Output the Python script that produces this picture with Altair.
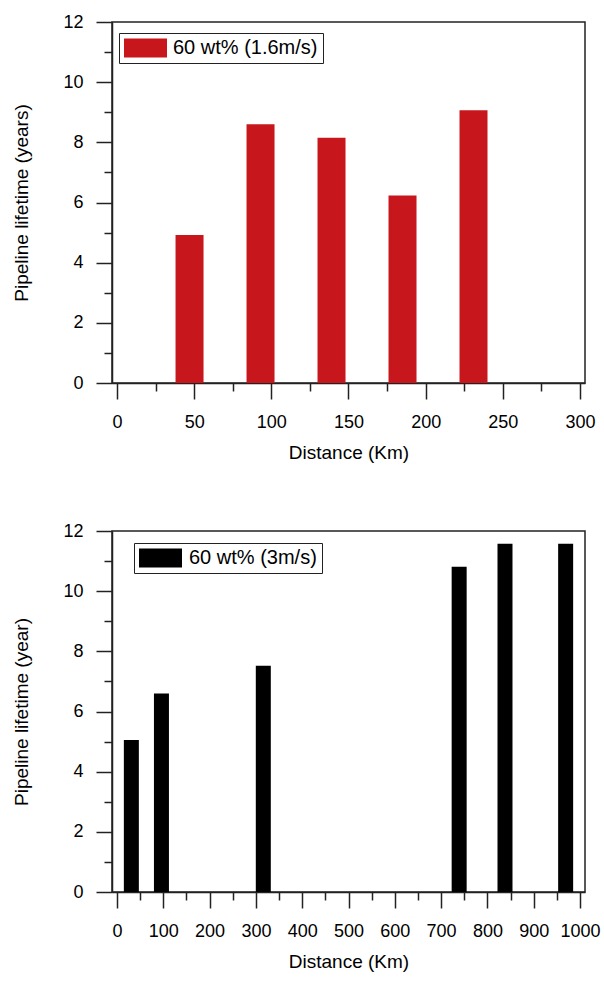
import altair as alt
import pandas as pd

# ---- data ----
top_distance = [47, 93, 139, 185, 231]
top_lifetime = [4.92, 8.6, 8.15, 6.23, 9.07]
top_series = "60 wt% (1.6m/s)"

bot_distance = [31, 96, 316, 739, 838, 969]
bot_lifetime = [5.05, 6.6, 7.52, 10.81, 11.58, 11.58]
bot_series = "60 wt% (3m/s)"

y_tick_values = list(range(0, 13))
top_x_tick_values = list(range(0, 301, 25))
bot_x_tick_values = list(range(0, 1001, 50))

top_df = pd.DataFrame({"Distance": top_distance, "Lifetime": top_lifetime,
                       "Series": [top_series] * len(top_distance)})
bot_df = pd.DataFrame({"Distance": bot_distance, "Lifetime": bot_lifetime,
                       "Series": [bot_series] * len(bot_distance)})

FONT = "Liberation Sans"
INK = "#222222"


def x_axis(values, major):
    return alt.Axis(
        values=values,
        title="Distance (Km)",
        grid=False,
        format="d",
        labelExpr=f"datum.value % {major} === 0 ? datum.label : ''",
        tickSize={"condition": {"test": f"datum.value % {major} === 0", "value": 16}, "value": 8},
        labelPadding=14,
        titlePadding=12,
        labelFlush=False,
        labelOverlap=False,
    )


def y_axis(title):
    return alt.Axis(
        values=y_tick_values,
        title=title,
        grid=False,
        format="d",
        labelExpr="datum.value % 2 === 0 ? datum.label : ''",
        tickSize={"condition": {"test": "datum.value % 2 === 0", "value": 16}, "value": 8},
        labelPadding=13,
        titlePadding=31,
        labelOverlap=False,
    )


def legend(x, y, label_offset):
    return alt.Legend(
        title=None,
        orient="none",
        legendX=x,
        legendY=y,
        symbolType="M-1,-0.95H3.3V0.95H-1Z",
        symbolSize=400,
        symbolStrokeWidth=0,
        symbolOpacity=1,
        strokeColor=INK,
        fillColor="white",
        padding=5,
        labelFont=FONT,
        labelFontSize=20,
        labelColor="black",
        labelOffset=label_offset,
    )


top = alt.Chart(top_df).mark_bar(size=28).encode(
    x=alt.X("Distance:Q", scale=alt.Scale(domain=[0, 300], nice=False, zero=False),
            axis=x_axis(top_x_tick_values, 50)),
    y=alt.Y("Lifetime:Q", scale=alt.Scale(domain=[0, 12], nice=False),
            axis=y_axis("Pipeline lifetime (years)")),
    color=alt.Color("Series:N", scale=alt.Scale(domain=[top_series], range=["#C8161D"]),
                    legend=legend(7, 11, 29)),
).properties(width=473, height=361)

bottom = alt.Chart(bot_df).mark_bar(size=15).encode(
    x=alt.X("Distance:Q", scale=alt.Scale(domain=[0, 1000], nice=False, zero=False),
            axis=x_axis(bot_x_tick_values, 100)),
    y=alt.Y("Lifetime:Q", scale=alt.Scale(domain=[0, 12], nice=False),
            axis=y_axis("Pipeline lifetime (year)")),
    color=alt.Color("Series:N", scale=alt.Scale(domain=[bot_series], range=["#000000"]),
                    legend=legend(22, 12, 30)),
).properties(width=473, height=361)

chart = alt.vconcat(top, bottom, spacing=58).resolve_scale(color="independent").properties(
    padding={"left": 12, "top": 12, "right": 0, "bottom": 4},
    background="white",
).configure_view(
    stroke=INK, strokeWidth=1.5
).configure_axis(
    domainColor=INK, domainWidth=1.5, tickColor=INK, tickWidth=1.5,
    labelFont=FONT, labelFontSize=18, labelColor="black",
    titleFont=FONT, titleFontSize=19, titleFontWeight="normal", titleColor="black",
)

chart.save("out.html", embed_options={"renderer": "svg", "actions": False})
